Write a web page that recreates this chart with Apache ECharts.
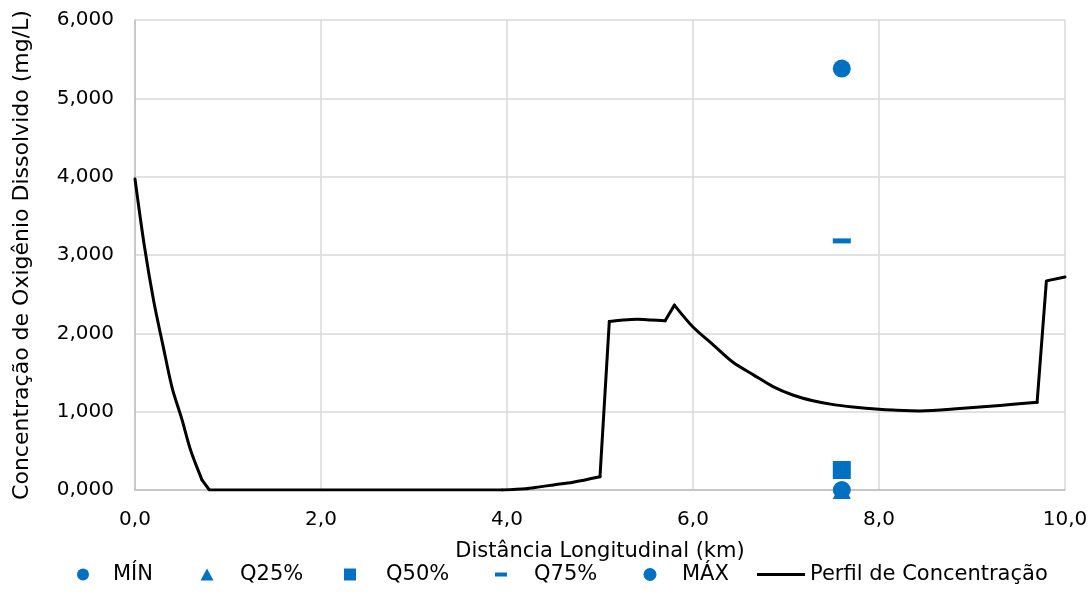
<!DOCTYPE html>
<html>
<head>
<meta charset="utf-8">
<script src="https://cdn.jsdelivr.net/npm/echarts@6/dist/echarts.min.js"></script>
<style>
html,body{margin:0;padding:0;background:#fff;}
#chart{width:1092px;height:616px;}
</style>
</head>
<body>
<div id="chart"></div>
<script>
// ---- data ----
const xTickLabels = ['0,0', '2,0', '4,0', '6,0', '8,0', '10,0'];
const yTickLabels = ['0,000', '1,000', '2,000', '3,000', '4,000', '5,000', '6,000'];

const stationX = 7.6;
const minVal = [[stationX, 0.0]];
const q25Val = [[stationX, 0.0]];
const q50Val = [[stationX, 0.255]];
const q75Val = [[stationX, 3.18]];
const maxVal = [[stationX, 5.38]];

const profileX = [0, 0.1, 0.2, 0.3, 0.4, 0.5, 0.6, 0.72, 0.8, 1.5, 2.5, 3.5, 3.95,
  4.2, 4.35, 4.5, 4.71, 5.0, 5.1, 5.25, 5.4, 5.55, 5.7, 5.8,
  6.0, 6.22, 6.43, 6.65, 6.86, 7.08, 7.29, 7.51, 7.72, 8.0, 8.15, 8.44, 8.87, 9.3, 9.7, 9.8, 10.0];
const profileY = [3.97, 3.12, 2.42, 1.85, 1.3, 0.92, 0.5, 0.13, 0.0, 0.0, 0.0, 0.0, 0.0,
  0.015, 0.04, 0.065, 0.10, 0.17, 2.15, 2.17, 2.18, 2.17, 2.16, 2.36,
  2.08, 1.85, 1.63, 1.47, 1.32, 1.21, 1.14, 1.09, 1.06, 1.03, 1.02, 1.01, 1.04, 1.08, 1.12, 2.67, 2.72];
// index ranges [start, end] of the profile; curved ones are drawn smooth
const profileSegments = [[0, 7, true], [7, 12, false], [12, 17, true], [17, 18, false],
  [18, 22, true], [22, 23, false], [23, 38, true], [38, 40, false]];

const names = ['MÍN', 'Q25%', 'Q50%', 'Q75%', 'MÁX', 'Perfil de Concentração'];

// ---- chart ----
const blue = '#0070C0';
const FONT = 'DejaVu Sans';
const chart = echarts.init(document.getElementById('chart'), null, {renderer: 'canvas'});

// legend icon paths: a full W x H bounding box (moveTo points) with the shape centred
function boxed(W, H, shape) {
  return 'path://M0,0M' + W + ',' + H + shape;
}
function circ(W, H, d) {
  const cx = W / 2, cy = H / 2, r = d / 2;
  return boxed(W, H, 'M' + (cx - r) + ',' + cy + 'A' + r + ',' + r + ' 0 1,0 ' + (cx + r) + ',' + cy +
    'A' + r + ',' + r + ' 0 1,0 ' + (cx - r) + ',' + cy + 'Z');
}
function rectI(W, H, w, h) {
  const x = (W - w) / 2, y = (H - h) / 2;
  return boxed(W, H, 'M' + x + ',' + y + 'h' + w + 'v' + h + 'h' + (-w) + 'Z');
}
function tri(W, H, w, h) {
  const cx = W / 2, y0 = (H - h) / 2;
  return boxed(W, H, 'M' + (cx - w / 2) + ',' + (y0 + h) + 'L' + cx + ',' + y0 + 'L' + (cx + w / 2) + ',' + (y0 + h) + 'Z');
}
const LH = 14;
function leg(name, center, textX, icon, W) {
  return {
    data: [{name: name, icon: icon}],
    left: center - W / 2, top: 564, padding: 0,
    itemWidth: W, itemHeight: LH, symbolKeepAspect: false,
    selectedMode: false,
    textStyle: {fontFamily: FONT, fontSize: 21, color: '#000'}
  };
}
function W(center, textX) { return 2 * (textX - center - 5); }

const lineSeries = profileSegments.map(([a, b, sm]) => ({
  name: names[5], type: 'line',
  data: profileX.slice(a, b + 1).map((x, i) => [x, profileY[a + i]]),
  showSymbol: false, symbol: 'none', smooth: sm ? 0.3 : false,
  lineStyle: {color: '#000', width: 3, cap: 'round', join: 'round'}, itemStyle: {color: '#000'}, z: 3
}));

const option = {
  backgroundColor: '#fff',
  animation: false,
  grid: {left: 135, right: 27, top: 20, bottom: 126, containLabel: false},
  xAxis: {
    type: 'value', min: 0, max: 10, interval: 2,
    name: 'Distância Longitudinal (km)', nameLocation: 'middle', nameGap: 51,
    nameTextStyle: {fontFamily: FONT, fontSize: 21, color: '#000'},
    axisLine: {show: true, onZero: false, lineStyle: {color: '#bfbfbf', width: 1.5}},
    axisTick: {show: false},
    axisLabel: {fontFamily: FONT, fontSize: 20, color: '#000', margin: 20,
      formatter: (v, i) => xTickLabels[i]},
    splitLine: {show: true, lineStyle: {color: '#d9d9d9', width: 1.5}}
  },
  yAxis: {
    type: 'value', min: 0, max: 6, interval: 1,
    name: 'Concentração de Oxigênio Dissolvido (mg/L)', nameLocation: 'middle', nameGap: 102,
    nameTextStyle: {fontFamily: FONT, fontSize: 22, color: '#000'},
    axisLine: {show: true, lineStyle: {color: '#bfbfbf', width: 1.5}},
    axisTick: {show: false},
    axisLabel: {fontFamily: FONT, fontSize: 20, color: '#000', margin: 21,
      formatter: (v, i) => yTickLabels[i]},
    splitLine: {show: true, lineStyle: {color: '#d9d9d9', width: 1.5}}
  },
  legend: [
    leg(names[0], 83, 113, circ(W(83, 113), LH, 12), W(83, 113)),
    leg(names[1], 207, 240, tri(W(207, 240), LH, 13, 12), W(207, 240)),
    leg(names[2], 350, 386, rectI(W(350, 386), LH, 12, 12), W(350, 386)),
    leg(names[3], 501, 534, rectI(W(501, 534), LH, 12, 4), W(501, 534)),
    leg(names[4], 650, 682, circ(W(650, 682), LH, 13), W(650, 682)),
    {
      data: [{name: names[5], icon: 'rect'}],
      left: 757, top: 564, padding: 0,
      itemWidth: 48, itemHeight: 3, symbolKeepAspect: false, selectedMode: false,
      textStyle: {fontFamily: FONT, fontSize: 21, color: '#000'}
    }
  ],
  series: [
    {name: names[1], type: 'scatter', data: q25Val, symbol: 'triangle', symbolSize: 18,
      itemStyle: {color: blue, opacity: 1}, clip: false},
    {name: names[0], type: 'scatter', data: minVal, symbol: 'circle', symbolSize: 18,
      itemStyle: {color: blue, opacity: 1}, clip: false},
    {name: names[2], type: 'scatter', data: q50Val, symbol: 'rect', symbolSize: 18,
      itemStyle: {color: blue, opacity: 1}, clip: false},
    {name: names[3], type: 'scatter', data: q75Val, symbol: 'rect', symbolSize: [18, 5],
      itemStyle: {color: blue, opacity: 1}, clip: false},
    {name: names[4], type: 'scatter', data: maxVal, symbol: 'circle', symbolSize: 18,
      itemStyle: {color: blue, opacity: 1}, clip: false}
  ].concat(lineSeries)
};
chart.setOption(option);
</script>
</body>
</html>
